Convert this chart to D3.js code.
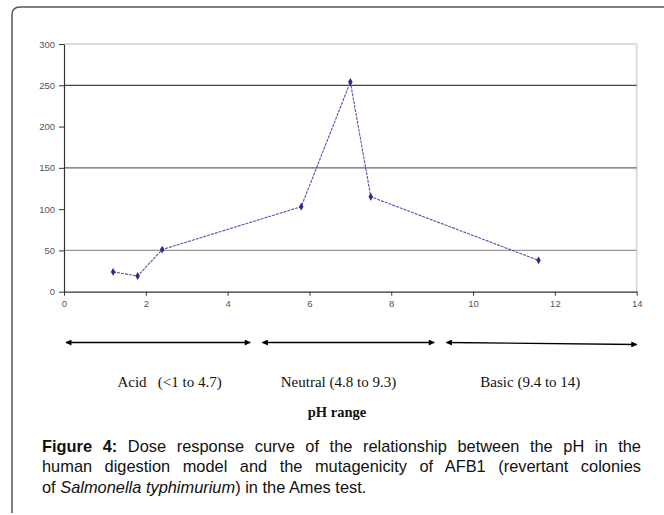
<!DOCTYPE html>
<html>
<head>
<meta charset="utf-8">
<script src="https://cdn.jsdelivr.net/npm/d3@7"></script>
<style>
  body { margin: 0; background: #fff; }
  svg { display: block; }
</style>
</head>
<body>
<div id="chart"></div>
<script>
// pH of each sample and the revertant colony count
const phValues = [1.2, 1.8, 2.4, 5.8, 7.0, 7.5, 11.6];
const revertants = [24, 19, 51, 103, 254, 115, 38];

const xTicks = [0, 2, 4, 6, 8, 10, 12, 14];
const yTicks = [0, 50, 100, 150, 200, 250, 300];
const gridValues = [50, 150, 250];

// pH ranges drawn as double arrows under the chart
const rangeNames = ["Acid   (<1 to 4.7)", "Neutral (4.8 to 9.3)", "Basic (9.4 to 14)"];
const rangeStart = [0.05, 4.85, 9.35];
const rangeEnd = [4.55, 9.05, 14.0];
const rangeLabelAt = [2.58, 6.71, 11.4];

const width = 664;
const height = 515;

const svg = d3.select("#chart").append("svg")
  .attr("width", width)
  .attr("height", height);

// figure frame (top and left edges, rounded corner)
svg.append("path")
  .attr("d", "M664,7 H20 Q12,7 12,15 V513")
  .attr("fill", "none")
  .attr("stroke", "#555")
  .attr("stroke-width", 1.5);

const x = d3.scaleLinear().domain([0, 14]).range([64, 636.7]);
const y = d3.scaleLinear().domain([0, 300]).range([291.7, 44]);

// light plot border on top and right
svg.append("path")
  .attr("d", `M${x(0)},${y(300)} H${x(14)} V${y(0)}`)
  .attr("fill", "none")
  .attr("stroke", "#ddd")
  .attr("stroke-width", 2);

// gridlines
svg.selectAll(".grid").data(gridValues).enter()
  .append("line")
  .attr("class", "grid")
  .attr("x1", x(0))
  .attr("x2", x(14))
  .attr("y1", d => y(d))
  .attr("y2", d => y(d))
  .attr("stroke", d => (d === 50 ? "#999" : d === 150 ? "#666" : "#444"))
  .attr("stroke-width", 1.2);

// axes
const yAxis = svg.append("g")
  .attr("transform", `translate(${x(0)},0)`)
  .call(d3.axisLeft(y).tickValues(yTicks).tickSize(5).tickSizeOuter(0).tickPadding(4));

const xAxis = svg.append("g")
  .attr("transform", `translate(0,${y(0)})`)
  .call(d3.axisBottom(x).tickValues(xTicks).tickSize(4).tickSizeOuter(0).tickPadding(5));

[xAxis, yAxis].forEach(g => {
  g.select(".domain").attr("stroke", "#333").attr("stroke-width", 1.2);
  g.selectAll(".tick line").attr("stroke", "#333");
  g.selectAll(".tick text")
    .attr("fill", "#555")
    .style("font-family", "'Liberation Sans', Arial, sans-serif")
    .style("font-size", "9.5px");
});

// response curve
const points = phValues.map((p, i) => ({ ph: p, value: revertants[i] }));

svg.append("path")
  .datum(points)
  .attr("fill", "none")
  .attr("stroke", "#5252b4")
  .attr("stroke-width", 1.1)
  .attr("stroke-dasharray", "3,1")
  .attr("d", d3.line().x(d => x(d.ph)).y(d => y(d.value)));

svg.selectAll(".pt").data(points).enter()
  .append("path")
  .attr("class", "pt")
  .attr("transform", d => `translate(${x(d.ph)},${y(d.value)})`)
  .attr("d", d3.symbol().type(d3.symbolDiamond).size(18))
  .attr("fill", "#2b2b8a");

// arrow heads
const defs = svg.append("defs");
defs.append("marker")
  .attr("id", "head")
  .attr("viewBox", "0 0 10 10")
  .attr("refX", 9)
  .attr("refY", 5)
  .attr("markerWidth", 7)
  .attr("markerHeight", 6)
  .attr("markerUnits", "userSpaceOnUse")
  .attr("orient", "auto-start-reverse")
  .append("path")
  .attr("d", "M0,0 L10,5 L0,10 Z")
  .attr("fill", "#000");

const arrowY = 342.5;
svg.selectAll(".range").data(rangeStart).enter()
  .append("line")
  .attr("class", "range")
  .attr("x1", d => x(d))
  .attr("x2", (d, i) => x(rangeEnd[i]))
  .attr("y1", arrowY)
  .attr("y2", (d, i) => (i === 2 ? arrowY + 2 : arrowY))
  .attr("stroke", "#000")
  .attr("stroke-width", 1.3)
  .attr("marker-start", "url(#head)")
  .attr("marker-end", "url(#head)");

svg.selectAll(".range-label").data(rangeNames).enter()
  .append("text")
  .attr("class", "range-label")
  .attr("x", (d, i) => x(rangeLabelAt[i]))
  .attr("y", 386.7)
  .attr("text-anchor", "middle")
  .style("white-space", "pre")
  .style("font-family", "'Liberation Serif', 'Times New Roman', serif")
  .style("font-size", "15px")
  .attr("fill", "#111")
  .text(d => d);

svg.append("text")
  .attr("x", 337)
  .attr("y", 417)
  .attr("text-anchor", "middle")
  .style("font-family", "'Liberation Serif', 'Times New Roman', serif")
  .style("font-size", "14.5px")
  .style("font-weight", "bold")
  .attr("fill", "#111")
  .text("pH range");

// caption, first two lines justified to the right edge
const capLeft = 42;
const capRight = 641;

function captionLine(yPos) {
  return svg.append("text")
    .attr("x", capLeft)
    .attr("y", yPos)
    .style("font-family", "'Liberation Sans', Arial, sans-serif")
    .style("font-size", "16.4px")
    .attr("fill", "#111");
}

function justify(line) {
  const txt = line.text();
  const gaps = (txt.match(/ /g) || []).length;
  const len = line.node().getComputedTextLength();
  line.style("word-spacing", `${(capRight - capLeft - len) / gaps}px`);
}

const line1 = captionLine(451.7);
line1.append("tspan").style("font-weight", "bold").text("Figure 4:");
line1.append("tspan").text(" Dose response curve of the relationship between the pH in the");
justify(line1);

const line2 = captionLine(472.4);
line2.text("human digestion model and the mutagenicity of AFB1 (revertant colonies");
justify(line2);

const line3 = captionLine(493.1);
line3.append("tspan").text("of ");
line3.append("tspan").style("font-style", "italic").text("Salmonella typhimurium");
line3.append("tspan").text(") in the Ames test.");
</script>
</body>
</html>
